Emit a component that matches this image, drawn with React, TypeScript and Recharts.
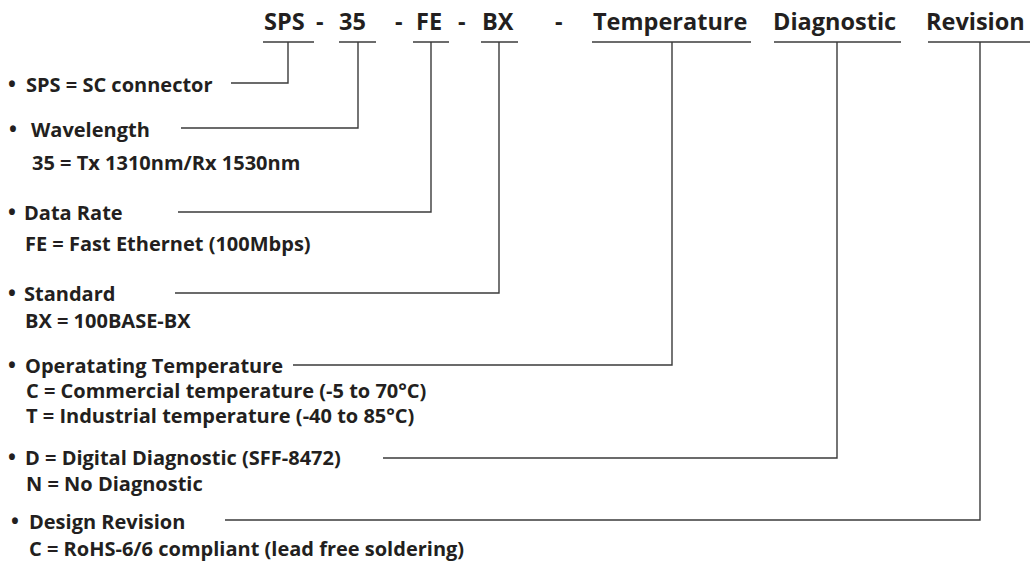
import React from "react";
import { ComposedChart, Line, Scatter, XAxis, YAxis } from "recharts";

const W = 1032;
const H = 563;
const INK = "#231f20";
const RULE = "#3b3b3b";
const FONT = "'Open Sans', 'DejaVu Sans', sans-serif";

// part number header, drawn left to right
const headerText = ["SPS", "-", "35", "-", "FE", "-", "BX", "-", "Temperature", "Diagnostic", "Revision"];
const headerX = [264, 316, 339, 395, 416, 458, 482, 555, 593, 773, 926];
const headerBaseline = 30;

// one field per code segment
const fieldColumn = [288, 358, 431, 499, 672, 837, 980];
const underlineFrom = [263, 339, 413, 481, 592, 774, 928];
const underlineTo = [314, 376, 449, 518, 751, 901, 1030];
const underlineY = 42;

// where each description's leader line sits
const leaderRow = [83, 128, 212, 293, 365, 458, 520];
const leaderStart = [231, 181, 178, 175, 293, 383, 225];

// description text
const legendText = [
  "SPS = SC connector",
  "Wavelength",
  "35 = Tx 1310nm/Rx 1530nm",
  "Data Rate",
  "FE = Fast Ethernet (100Mbps)",
  "Standard",
  "BX = 100BASE-BX",
  "Operatating Temperature",
  "C = Commercial temperature (-5 to 70°C)",
  "T = Industrial temperature (-40 to 85°C)",
  "D = Digital Diagnostic (SFF-8472)",
  "N = No Diagnostic",
  "Design Revision",
  "C = RoHS-6/6 compliant (lead free soldering)",
];
const legendX = [26, 31, 32, 24, 25, 24, 25, 25, 26, 26, 25, 26, 29, 29];
const legendBaseline = [92, 137, 170, 220, 251, 301, 328, 373, 398, 423, 465, 491, 529, 556];
const legendBullet = [true, true, false, true, false, true, false, true, false, false, true, false, true, false];
const bulletX = [8, 9, 0, 8, 0, 8, 0, 8, 0, 0, 8, 0, 11, 0];

const headerData = headerText.map((t, i) => ({ x: headerX[i], y: headerBaseline, text: t, size: 23.5 }));
const legendData = legendText.flatMap((t, i) => {
  const rows = [{ x: legendX[i], y: legendBaseline[i], text: t, size: 20 }];
  if (legendBullet[i]) rows.push({ x: bulletX[i], y: legendBaseline[i], text: "•", size: 21 });
  return rows;
});

const underlines = fieldColumn.map((_, i) => [
  { x: underlineFrom[i], y: underlineY },
  { x: underlineTo[i], y: underlineY },
]);
const leaders = fieldColumn.map((col, i) => [
  { x: leaderStart[i], y: leaderRow[i] },
  { x: col, y: leaderRow[i] },
  { x: col, y: underlineY },
]);

const TextMark = (props: any) => {
  const { cx, cy, payload } = props;
  return (
    <text x={cx} y={cy} fill={INK} fontSize={payload.size} fontWeight={700} fontFamily={FONT}>
      {payload.text}
    </text>
  );
};

export default function App() {
  return (
    <div style={{ position: "absolute", left: 0, top: 0, background: "#fff" }}>
      <ComposedChart width={W} height={H} margin={{ top: 0, right: 0, bottom: 0, left: 0 }}>
        <XAxis type="number" dataKey="x" domain={[0, W]} hide allowDataOverflow />
        <YAxis type="number" dataKey="y" domain={[0, H]} reversed hide allowDataOverflow />
        {underlines.map((d, i) => (
          <Line
            key={"u" + i}
            data={d}
            dataKey="y"
            type="linear"
            stroke={RULE}
            strokeWidth={1.4}
            dot={false}
            isAnimationActive={false}
          />
        ))}
        {leaders.map((d, i) => (
          <Line
            key={"l" + i}
            data={d}
            dataKey="y"
            type="linear"
            stroke={RULE}
            strokeWidth={1.4}
            dot={false}
            isAnimationActive={false}
          />
        ))}
        <Scatter data={headerData} dataKey="y" shape={TextMark} isAnimationActive={false} />
        <Scatter data={legendData} dataKey="y" shape={TextMark} isAnimationActive={false} />
      </ComposedChart>
    </div>
  );
}
